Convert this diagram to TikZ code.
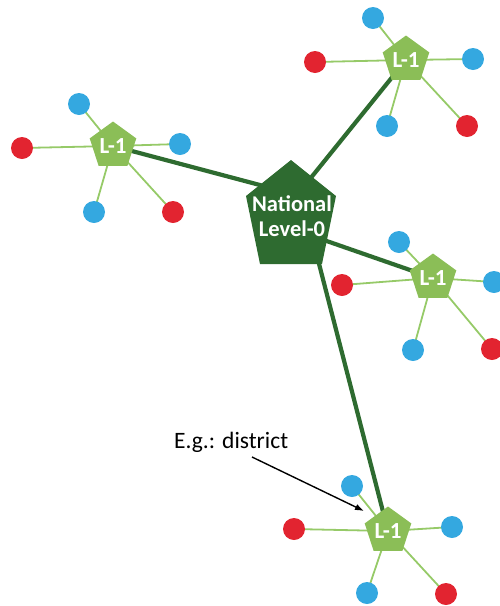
\documentclass[tikz,border=0pt]{standalone}
\usepackage{fontspec}
\setmainfont{Carlito}
\usetikzlibrary{shapes.geometric,arrows.meta,backgrounds}
\definecolor{dkgreen}{RGB}{46,107,48}
\definecolor{ltgreen}{RGB}{139,190,87}
\definecolor{lngreen}{RGB}{150,202,104}
\definecolor{dotblue}{RGB}{52,168,224}
\definecolor{dotred}{RGB}{226,36,48}
\begin{document}
\begin{tikzpicture}[x=1pt,y=-1pt,
  lonebox/.style={regular polygon, regular polygon sides=5, fill=ltgreen, minimum size=49pt, inner sep=0pt, text=white, font=\bfseries\fontsize{23}{25}\selectfont},
  bdot/.style={circle, fill=dotblue, minimum size=22pt, inner sep=0pt},
  rdot/.style={circle, fill=dotred, minimum size=22pt, inner sep=0pt},
  thinlink/.style={draw=lngreen, line width=1.8pt},
  thicklink/.style={draw=dkgreen, line width=4.2pt},
  pointer/.style={draw=black, line width=1.4pt, -{Latex[length=9pt,width=6.5pt]}}
]
\clip (0,0) rectangle (500,606);
\useasboundingbox (0,0) rectangle (500,606);

% national level pentagon
\fill[dkgreen] (291,160) -- (336,196) -- (322,264) -- (260,264) -- (246,196) -- cycle;
\node[align=center, inner sep=0pt, text=white, font=\bfseries\fontsize{22.5}{25}\selectfont] (L0) at (292,216) {National\\Level-0};
\coordinate (L0a) at (290,193);
\coordinate (L0b) at (293,200);
\coordinate (L0c) at (295,230);
\coordinate (L0d) at (309,225);

% level-1 pentagons
\node[lonebox] (A) at (113,146) {L-1};
\node[lonebox] (B) at (406,60) {L-1};
\node[lonebox] (C) at (433,278) {L-1};
\node[lonebox] (D) at (388,531) {L-1};

% dots around A
\node[bdot] (a1) at (79,104) {};
\node[rdot] (a2) at (22,148) {};
\node[bdot] (a3) at (180,144) {};
\node[bdot] (a4) at (94,212) {};
\node[rdot] (a5) at (173,212) {};
% dots around B
\node[bdot] (b1) at (373,18) {};
\node[rdot] (b2) at (315,62) {};
\node[bdot] (b3) at (473,59) {};
\node[bdot] (b4) at (387,126) {};
\node[rdot] (b5) at (467,126) {};
% dots around C
\node[bdot] (c1) at (399,242) {};
\node[rdot] (c2) at (342,285) {};
\node[bdot] (c3) at (494,282) {};
\node[bdot] (c4) at (413,350) {};
\node[rdot] (c5) at (492,349) {};
% dots around D
\node[bdot] (d1) at (352,486) {};
\node[rdot] (d2) at (294,529) {};
\node[bdot] (d3) at (452,527) {};
\node[bdot] (d4) at (367,593) {};
\node[rdot] (d5) at (446,594) {};

\begin{pgfonlayer}{background}
  \draw[thinlink] (A.center) -- (a1.center) (A.center) -- (a2.center) (A.center) -- (a3.center) (A.center) -- (a4.center) (A.center) -- (a5.center);
  \draw[thinlink] (B.center) -- (b1.center) (B.center) -- (b2.center) (B.center) -- (b3.center) (B.center) -- (b4.center) (B.center) -- (b5.center);
  \draw[thinlink] (C.center) -- (c1.center) (C.center) -- (c2.center) (C.center) -- (c3.center) (C.center) -- (c4.center) (C.center) -- (c5.center);
  \draw[thinlink] (D.center) -- (d1.center) (D.center) -- (d2.center) (D.center) -- (d3.center) (D.center) -- (d4.center) (D.center) -- (d5.center);
  \draw[thicklink] (L0a) -- (A.center);
  \draw[thicklink] (L0b) -- (B.center);
  \draw[thicklink] (L0c) -- (C.center);
  \draw[thicklink] (L0d) -- (D.center);
\end{pgfonlayer}

% annotation
\node[anchor=base west, inner sep=0pt, font=\fontsize{23.5}{27}\selectfont] (eg) at (174,448) {E.g.: district};
\coordinate (egs) at (252,457);
\coordinate (ege) at (364,511);
\draw[pointer] (egs) -- (ege);
\end{tikzpicture}
\end{document}
